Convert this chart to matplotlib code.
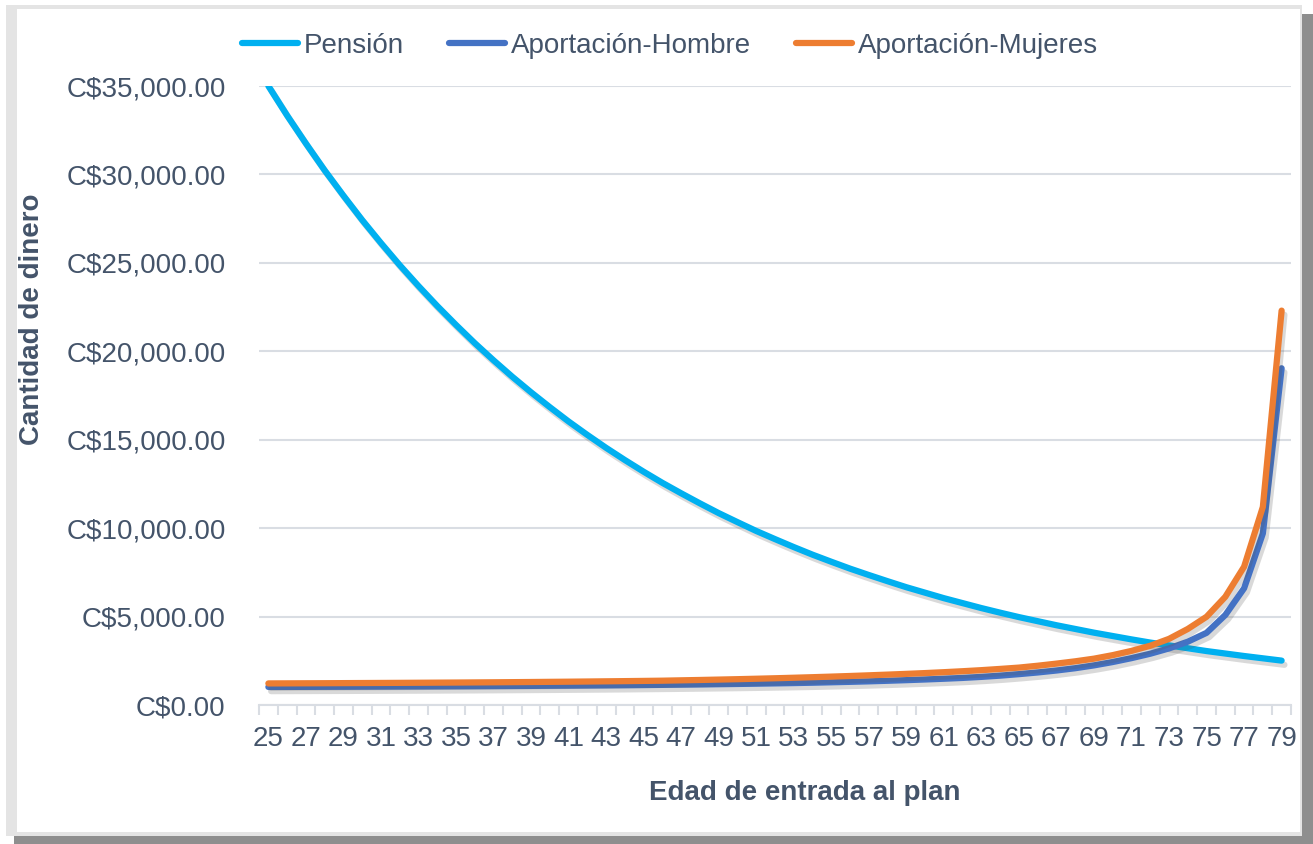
import matplotlib
matplotlib.use("Agg")
import matplotlib.pyplot as plt
import matplotlib.patheffects as pe
from matplotlib.patches import Rectangle
from matplotlib.ticker import FuncFormatter, FixedLocator

plt.rcParams['font.family'] = ['Liberation Sans', 'DejaVu Sans']

# Edad de entrada al plan (25 .. 79)
edades = list(range(25, 80))

pension = [35000, 33330, 31750, 30230, 28800, 27420, 26120, 24870, 23690, 22560,
           21490, 20460, 19490, 18560, 17680, 16840, 16030, 15270, 14540, 13850,
           13190, 12560, 11970, 11400, 10850, 10340, 9840, 9380, 8930, 8500,
           8100, 7710, 7350, 7000, 6660, 6350, 6040, 5760, 5480, 5220,
           4970, 4740, 4510, 4300, 4090, 3900, 3710, 3530, 3370, 3210,
           3050, 2910, 2770, 2640, 2510]

aport_hombre = [1020, 1023, 1026, 1029, 1032, 1036, 1040, 1044, 1048, 1053,
                1058, 1063, 1069, 1075, 1081, 1088, 1095, 1103, 1111, 1120,
                1130, 1140, 1151, 1163, 1176, 1190, 1205, 1222, 1240, 1260,
                1285, 1310, 1338, 1370, 1405, 1443, 1485, 1531, 1590, 1660,
                1745, 1840, 1950, 2080, 2240, 2430, 2650, 2900, 3200, 3580,
                4080, 5090, 6600, 9700, 19040]

aport_mujeres = [1220, 1224, 1228, 1232, 1237, 1242, 1247, 1252, 1258, 1264,
                 1270, 1277, 1284, 1292, 1300, 1309, 1318, 1328, 1339, 1350,
                 1362, 1375, 1395, 1415, 1437, 1460, 1485, 1512, 1541, 1572,
                 1605, 1640, 1678, 1718, 1760, 1805, 1855, 1910, 1970, 2040,
                 2115, 2220, 2340, 2470, 2620, 2820, 3060, 3350, 3740, 4300,
                 4990, 6120, 7820, 11200, 22300]

series = [("Pensión", pension, "#00B0F0"),
          ("Aportación-Hombre", aport_hombre, "#4472C4"),
          ("Aportación-Mujeres", aport_mujeres, "#ED7D31")]

TXT = "#44546A"
GRID = "#D9DDE3"
W, H = 1313, 844

fig = plt.figure(figsize=(W / 100, H / 100), dpi=100)


def px(x0, y0, x1, y1):
    # pixel box (top-left origin) -> figure fraction rectangle
    return (x0 / W, 1 - y1 / H), (x1 - x0) / W, (y1 - y0) / H


# frame: dark drop shadow, light border, white panel
for box, fc in [((14, 14, 1313, 844), "#8E8E8E"),
                ((6, 5, 1302, 836), "#E4E4E4"),
                ((17, 9, 1300, 832), "white")]:
    xy, w, h = px(*box)
    fig.patches.append(Rectangle(xy, w, h, transform=fig.transFigure,
                                 facecolor=fc, edgecolor="none", zorder=-10))

ax = fig.add_axes([259 / W, 1 - 705 / H, (1291 - 259) / W, (705 - 86) / H])
ax.set_facecolor("none")

x = list(range(len(edades)))
shadow = [pe.SimpleLineShadow(offset=(2, -3), shadow_color="#555555", alpha=0.22),
          pe.Normal()]
for name, vals, col in series:
    ax.plot(x, vals, color=col, lw=4.5, label=name, solid_capstyle="round",
            solid_joinstyle="round", path_effects=shadow, zorder=3)

ax.set_xlim(-0.5, len(edades) - 0.5)
ax.set_ylim(0, 35000)
ax.set_yticks(range(0, 35001, 5000))
ax.yaxis.set_major_formatter(FuncFormatter(lambda v, p: f"C${v:,.2f}"))
ax.grid(axis="y", color=GRID, lw=1.5, zorder=0)

ax.xaxis.set_major_locator(FixedLocator(x[::2]))
ax.set_xticklabels([str(e) for e in edades[::2]])
ax.xaxis.set_minor_locator(FixedLocator([i - 0.5 for i in range(len(edades) + 1)]))
ax.tick_params(axis="x", which="major", length=0, pad=15, labelsize=20, labelcolor=TXT)
ax.tick_params(axis="x", which="minor", length=7, width=1.5, color=GRID)
ax.tick_params(axis="y", length=0, pad=24, labelsize=20, labelcolor=TXT)

for s in ["top", "right", "left"]:
    ax.spines[s].set_visible(False)
ax.spines["bottom"].set_color(GRID)
ax.spines["bottom"].set_linewidth(1.5)

fig.text(805 / W, 1 - 793 / H, "Edad de entrada al plan", ha="center", va="center",
         fontsize=20, fontweight="bold", color=TXT)
fig.text(32 / W, 1 - 319 / H, "Cantidad de dinero", ha="center", va="center",
         rotation=90, fontsize=20, fontweight="bold", color=TXT)

leg = fig.legend(loc="center", bbox_to_anchor=(670 / W, 1 - 46 / H), ncol=3,
                 frameon=False, fontsize=20, handlelength=2.0, handletextpad=0.2,
                 columnspacing=1.65, labelcolor=TXT)
for h in leg.get_lines():
    h.set_path_effects([])
    h.set_linewidth(4.5)
    h.set_solid_capstyle("round")

fig.savefig("out.png", dpi=100)
